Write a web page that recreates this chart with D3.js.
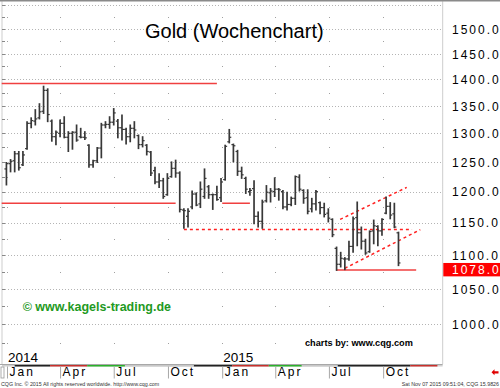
<!DOCTYPE html>
<html>
<head>
<meta charset="utf-8">
<script src="https://cdn.jsdelivr.net/npm/d3@7"></script>
<style>
body { margin: 0; background: #fff; }
svg { display: block; font-family: "Liberation Sans", Arial, sans-serif; }
</style>
</head>
<body>
<div id="chart"></div>
<script>
// Gold weekly bars (USD/oz), week of 6 Jan 2014 to week of 2 Nov 2015
var firstWeek = new Date(2014, 0, 6);
var endWeek = new Date(2015, 10, 3);

var opens = [1238, 1247, 1252, 1264, 1245, 1273, 1318, 1322, 1328, 1340,
	1379, 1322, 1294, 1300, 1318, 1293, 1300, 1302, 1294, 1293,
	1279, 1245, 1252, 1274, 1315, 1316, 1320, 1322, 1310, 1307,
	1294, 1309, 1296, 1280, 1279, 1267, 1235, 1216, 1218, 1195,
	1225, 1239, 1231, 1170, 1160, 1175, 1196, 1180, 1192, 1208,
	1195, 1195, 1190, 1220, 1285, 1280, 1268, 1234, 1222, 1200,
	1205, 1160, 1152, 1185, 1198, 1200, 1204, 1200, 1175, 1179,
	1189, 1224, 1202, 1190, 1172, 1180, 1182, 1174, 1165, 1155,
	1110, 1086, 1094, 1094, 1113, 1158, 1134, 1121, 1105, 1137,
	1144, 1137, 1165, 1176, 1164, 1134];
var highs = [1249, 1254, 1268, 1268, 1268, 1321, 1328, 1343, 1354, 1387,
	1382, 1324, 1304, 1324, 1330, 1303, 1303, 1315, 1309, 1303,
	1280, 1253, 1275, 1318, 1321, 1330, 1345, 1325, 1333, 1309,
	1315, 1321, 1297, 1294, 1280, 1268, 1241, 1230, 1222, 1230,
	1250, 1253, 1233, 1172, 1172, 1201, 1198, 1216, 1238, 1210,
	1196, 1209, 1222, 1279, 1307, 1281, 1270, 1241, 1224, 1205,
	1218, 1167, 1186, 1210, 1205, 1223, 1205, 1202, 1199, 1191,
	1226, 1228, 1203, 1203, 1189, 1202, 1183, 1181, 1172, 1156,
	1112, 1104, 1096, 1121, 1159, 1183, 1143, 1124, 1137, 1154,
	1145, 1156, 1191, 1182, 1181, 1135];
var lows = [1211, 1233, 1233, 1236, 1244, 1272, 1310, 1315, 1326, 1336,
	1321, 1286, 1280, 1294, 1292, 1268, 1272, 1286, 1292, 1289,
	1241, 1241, 1249, 1257, 1310, 1309, 1315, 1292, 1288, 1281,
	1285, 1292, 1273, 1276, 1262, 1227, 1213, 1207, 1189, 1194,
	1224, 1224, 1167, 1141, 1143, 1172, 1177, 1174, 1189, 1189,
	1171, 1186, 1184, 1219, 1283, 1250, 1227, 1222, 1197, 1194,
	1148, 1143, 1141, 1183, 1183, 1192, 1186, 1172, 1170, 1177,
	1179, 1201, 1181, 1164, 1167, 1170, 1164, 1159, 1151, 1128,
	1077, 1082, 1078, 1092, 1104, 1114, 1109, 1101, 1104, 1117,
	1114, 1130, 1164, 1156, 1142, 1084];
var closes = [1247, 1251, 1264, 1240, 1262, 1318, 1323, 1326, 1339, 1379,
	1334, 1294, 1302, 1318, 1293, 1300, 1302, 1288, 1293, 1292,
	1245, 1252, 1274, 1315, 1316, 1320, 1337, 1310, 1307, 1294,
	1309, 1306, 1280, 1287, 1268, 1231, 1216, 1218, 1192, 1222,
	1239, 1231, 1171, 1169, 1168, 1196, 1178, 1204, 1222, 1195,
	1195, 1187, 1216, 1277, 1293, 1278, 1234, 1228, 1204, 1202,
	1160, 1152, 1183, 1199, 1201, 1204, 1203, 1175, 1179, 1189,
	1225, 1204, 1189, 1168, 1180, 1200, 1174, 1163, 1157, 1131,
	1086, 1095, 1094, 1113, 1156, 1134, 1121, 1103, 1136, 1145,
	1137, 1155, 1176, 1162, 1143, 1088];

var priceTicks = [1000, 1050, 1100, 1150, 1200, 1250, 1300, 1350, 1400, 1450, 1500];
var gridPrices = [1000, 1050, 1100, 1150, 1200, 1250, 1300, 1350, 1400, 1450, 1500, 1550];
var halfPrices = [975, 1025, 1075, 1125, 1175, 1225, 1275, 1325, 1375, 1425, 1475, 1525];
var lastPrice = 1078.0;

// lines drawn by hand on the chart: [date from, price, date to, price]
var solidLines = [
	[new Date(2013, 11, 23), 1392, new Date(2014, 11, 23), 1392],
	[new Date(2013, 11, 23), 1181, new Date(2014, 9, 14), 1181],
	[new Date(2015, 0, 1), 1181, new Date(2015, 1, 17), 1181],
	[new Date(2015, 6, 13), 1077.5, new Date(2015, 10, 26), 1077.5]
];
var dashedLines = [
	[new Date(2014, 9, 28), 1139, new Date(2015, 10, 19), 1139],
	[new Date(2015, 6, 20), 1155, new Date(2015, 10, 10), 1207],
	[new Date(2015, 6, 28), 1080, new Date(2015, 11, 3), 1139]
];

// contract month strip under the time axis
var stripDates = [new Date(2014, 0, 14), new Date(2014, 2, 15), new Date(2014, 4, 17), new Date(2014, 6, 20),
	new Date(2014, 10, 14), new Date(2015, 0, 18), new Date(2015, 2, 21), new Date(2015, 4, 16),
	new Date(2015, 6, 16), new Date(2015, 10, 16), new Date(2016, 0, 1)];
var stripColors = ["#222", "#c8302c", "#2bb02b", "#c8c8c8", "#222", "#c8302c", "#2bb02b", "#c8c8c8", "#222", "#c8302c"];

function init() {
	var w = 500;
	var h = 388;
	var left = 2, right = 442.7, top = 1.5, bottom = 364;

	var svg = d3.select("#chart")
		.append("svg")
		.attr("width", w)
		.attr("height", h);

	svg.append("rect").attr("width", w).attr("height", h).attr("fill", "#fff");

	var xScale = d3.scaleTime()
		.domain([new Date(2013, 11, 23, 12), new Date(2016, 0, 10)])
		.range([left, right]);
	var yScale = d3.scaleLog()
		.domain([947, 1557])
		.range([bottom, top + 0.5]);

	var weeks = d3.timeMonday.range(firstWeek, endWeek);
	// CQG puts the weekly bar a few days ahead of the week
	var barX = function(i) { return xScale(d3.timeDay.offset(weeks[i], -6)); };

	var quarters = xScale.ticks(d3.timeMonth.every(3)).filter(function(d) { return d < new Date(2015, 11, 1); });

	// gridlines
	svg.append("g")
		.selectAll("line")
		.data(gridPrices)
		.enter()
		.append("line")
		.attr("x1", left).attr("x2", right)
		.attr("y1", function(d) { return Math.round(yScale(d)) + 0.5; })
		.attr("y2", function(d) { return Math.round(yScale(d)) + 0.5; })
		.attr("stroke", "#b4b4b4")
		.attr("stroke-dasharray", "1,2");

	var dots = [];
	quarters.forEach(function(q) {
		halfPrices.forEach(function(p) { dots.push([q, p]); });
	});
	svg.append("g")
		.selectAll("rect")
		.data(dots)
		.enter()
		.append("rect")
		.attr("x", function(d) { return Math.round(xScale(d[0])); })
		.attr("y", function(d) { return Math.round(yScale(d[1])); })
		.attr("width", 1).attr("height", 1)
		.attr("fill", "#a0a0a0");

	// frame
	svg.append("line").attr("x1", 0).attr("x2", w).attr("y1", 0.75).attr("y2", 0.75)
		.attr("stroke", "#8a8a8a").attr("stroke-width", 1.5);
	svg.append("line").attr("x1", left).attr("x2", left).attr("y1", top).attr("y2", bottom)
		.attr("stroke", "#9a9a9a").attr("stroke-dasharray", "1,1");
	svg.append("line").attr("x1", right).attr("x2", right).attr("y1", top).attr("y2", bottom)
		.attr("stroke", "#9a9a9a").attr("stroke-dasharray", "1,1");
	svg.append("g")
		.selectAll("line")
		.data(halfPrices.concat(gridPrices))
		.enter()
		.append("line")
		.attr("x1", left).attr("x2", left + 3)
		.attr("y1", function(d) { return Math.round(yScale(d)) + 0.5; })
		.attr("y2", function(d) { return Math.round(yScale(d)) + 0.5; })
		.attr("stroke", "#888");
	svg.append("line").attr("x1", 0).attr("x2", right).attr("y1", bottom + 0.5).attr("y2", bottom + 0.5)
		.attr("stroke", "#a8a8a8");

	// contract strip
	svg.append("rect").attr("x", left).attr("y", bottom + 1).attr("width", right - left).attr("height", 1.5)
		.attr("fill", "#d0d0d0");
	svg.append("g")
		.selectAll("rect")
		.data(stripColors)
		.enter()
		.append("rect")
		.attr("x", function(d, i) { return xScale(stripDates[i]); })
		.attr("y", bottom + 1)
		.attr("width", function(d, i) { return xScale(stripDates[i + 1]) - xScale(stripDates[i]); })
		.attr("height", 1.5)
		.attr("fill", function(d) { return d; });

	// time axis
	var xAxis = d3.axisBottom(xScale)
		.tickValues(quarters)
		.tickFormat(d3.timeFormat("%b"))
		.tickSize(12);
	var gx = svg.append("g")
		.attr("transform", "translate(0," + (bottom + 2.5) + ")")
		.call(xAxis);
	gx.select(".domain").remove();
	gx.selectAll(".tick line").attr("stroke", "#a8a8a8");
	gx.selectAll(".tick text")
		.attr("x", 2)
		.attr("y", 1)
		.attr("text-anchor", "start")
		.style("font-family", "Liberation Sans, Arial, sans-serif")
		.style("font-size", "12px")
		.style("letter-spacing", "2px")
		.attr("fill", "#000");
	svg.append("rect").attr("x", 1).attr("y", bottom + 3).attr("width", 3).attr("height", 11)
		.attr("fill", "none").attr("stroke", "#999").attr("stroke-width", 0.8);

	// year labels
	svg.append("g")
		.selectAll("text")
		.data(quarters.filter(function(d) { return d.getMonth() === 0; }))
		.enter()
		.append("text")
		.attr("x", function(d) { return xScale(d) + 1; })
		.attr("y", bottom - 2)
		.style("font-size", "13.5px")
		.text(d3.timeFormat("%Y"));

	// price axis
	var yAxis = d3.axisRight(yScale)
		.tickValues(priceTicks)
		.tickFormat(d3.format(".1f"))
		.tickSize(0)
		.tickPadding(0);
	var gy = svg.append("g")
		.attr("transform", "translate(452,0)")
		.call(yAxis);
	gy.select(".domain").remove();
	gy.selectAll(".tick text")
		.style("font-family", "Liberation Sans, Arial, sans-serif")
		.style("font-size", "12px")
		.style("letter-spacing", "2px")
		.attr("dy", "0.36em")
		.attr("fill", "#000");

	// last price marker
	svg.append("rect")
		.attr("x", 443.3)
		.attr("y", yScale(lastPrice) - 6.7)
		.attr("width", w - 443.3)
		.attr("height", 13.4)
		.attr("fill", "#ff0000");
	svg.append("text")
		.attr("x", 452)
		.attr("y", yScale(lastPrice))
		.attr("dy", "0.36em")
		.attr("fill", "#fff")
		.style("font-size", "12px")
		.style("letter-spacing", "2px")
		.text(d3.format(".1f")(lastPrice));

	// trend lines
	svg.append("g")
		.selectAll("line")
		.data(solidLines)
		.enter()
		.append("line")
		.attr("x1", function(d) { return xScale(d[0]); })
		.attr("y1", function(d) { return yScale(d[1]); })
		.attr("x2", function(d) { return xScale(d[2]); })
		.attr("y2", function(d) { return yScale(d[3]); })
		.attr("stroke", "#f04040")
		.attr("stroke-width", 1.5);
	svg.append("g")
		.selectAll("line")
		.data(dashedLines)
		.enter()
		.append("line")
		.attr("x1", function(d) { return xScale(d[0]); })
		.attr("y1", function(d) { return yScale(d[1]); })
		.attr("x2", function(d) { return xScale(d[2]); })
		.attr("y2", function(d) { return yScale(d[3]); })
		.attr("stroke", "#ff2020")
		.attr("stroke-width", 1.5)
		.attr("stroke-dasharray", "3,3");

	// OHLC bars
	var bars = svg.append("g")
		.selectAll("g")
		.data(weeks)
		.enter()
		.append("g")
		.attr("stroke", "#383838")
		.attr("stroke-width", 1.7);
	bars.append("line")
		.attr("x1", function(d, i) { return barX(i); })
		.attr("x2", function(d, i) { return barX(i); })
		.attr("y1", function(d, i) { return yScale(highs[i]) - 0.5; })
		.attr("y2", function(d, i) { return yScale(lows[i]) + 0.5; });
	bars.append("line")
		.attr("x1", function(d, i) { return barX(i) - 2; })
		.attr("x2", function(d, i) { return barX(i); })
		.attr("y1", function(d, i) { return yScale(opens[i]); })
		.attr("y2", function(d, i) { return yScale(opens[i]); })
		.attr("stroke-width", 1.2);
	bars.append("line")
		.attr("x1", function(d, i) { return barX(i); })
		.attr("x2", function(d, i) { return barX(i) + 2; })
		.attr("y1", function(d, i) { return yScale(closes[i]); })
		.attr("y2", function(d, i) { return yScale(closes[i]); })
		.attr("stroke-width", 1.2);

	// texts
	svg.append("text")
		.attr("x", 145)
		.attr("y", 37.7)
		.style("font-size", "20px")
		.attr("fill", "#000")
		.text("Gold (Wochenchart)");
	svg.append("text")
		.attr("x", 22.7)
		.attr("y", 311)
		.style("font-size", "12.5px")
		.style("font-weight", "bold")
		.attr("fill", "#1f9a1f")
		.text("\u00a9 www.kagels-trading.de");
	svg.append("text")
		.attr("x", 305)
		.attr("y", 345.5)
		.style("font-size", "9.2px")
		.style("font-weight", "bold")
		.attr("fill", "#000")
		.text("charts by: www.cqg.com");
	svg.append("text")
		.attr("x", 1)
		.attr("y", 386)
		.style("font-size", "5.3px")
		.attr("fill", "#333")
		.text("CQG Inc. \u00a9 2015 All rights reserved worldwide. http://www.cqg.com");
	svg.append("text")
		.attr("x", 499)
		.attr("y", 386)
		.attr("text-anchor", "end")
		.style("font-size", "5.3px")
		.attr("fill", "#333")
		.text("Sat Nov 07 2015 09:51:04, CQG 15.9826");

	// scroll arrow
	svg.append("path")
		.attr("d", "M491.5,372.3 L494.5,369.3 L494.5,371.2 L498.5,371.2 L498.5,373.4 L494.5,373.4 L494.5,375.3 Z")
		.attr("fill", "#e00000");
}
window.onload = init;
</script>
</body>
</html>
